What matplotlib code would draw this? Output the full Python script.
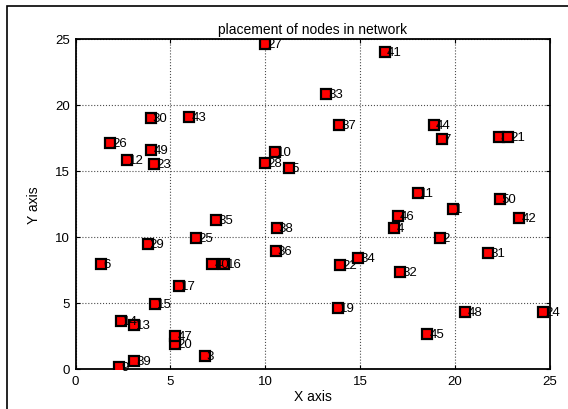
import matplotlib
matplotlib.use('Agg')
import matplotlib.pyplot as plt
from matplotlib.patches import Rectangle

# node positions, indexed by node_id
node_id = [1, 2, 3, 4, 5, 6, 7, 8, 9, 10,
           11, 12, 13, 14, 15, 16, 17, 19, 20,
           21, 22, 23, 24, 25, 26, 27, 28, 29, 30,
           31, 32, 33, 34, 35, 36, 37, 38, 39, 40,
           41, 42, 43, 44, 45, 46, 47, 48, 49, 50]
node_x = [19.9, 19.2, 6.8, 16.8, 11.25, 1.35, 19.3, 22.3, 2.3, 10.5,
          18.04, 2.7, 3.1, 2.4, 4.2, 7.85, 5.45, 13.85, 5.25,
          22.8, 13.95, 4.15, 24.65, 6.35, 1.82, 10.0, 10.0, 3.8, 3.96,
          21.75, 17.1, 13.2, 14.9, 7.4, 10.55, 13.9, 10.6, 3.1, 7.2,
          16.3, 23.4, 6.0, 18.9, 18.55, 17.0, 5.25, 20.55, 4.0, 22.35]
node_y = [12.15, 9.9, 0.96, 10.7, 15.2, 7.95, 17.45, 17.6, 0.17, 16.4,
          13.3, 15.8, 3.3, 3.6, 4.95, 7.95, 6.3, 4.6, 1.9,
          17.6, 7.87, 15.5, 4.3, 9.9, 17.1, 24.6, 15.6, 9.5, 19.0,
          8.75, 7.35, 20.8, 8.4, 11.3, 8.95, 18.5, 10.7, 0.6, 7.95,
          24.0, 11.4, 19.1, 18.5, 2.65, 11.6, 2.5, 4.33, 16.6, 12.9]

ticks = [0, 5, 10, 15, 20, 25]

plt.rcParams['font.family'] = ['Liberation Sans', 'DejaVu Sans']

fig = plt.figure(figsize=(5.68, 4.10), dpi=100)
ax = fig.add_axes([0.133, 0.0976, 0.835, 0.805])

# marker, then its number, node after node (later ones cover earlier labels)
for i, (n, x, y) in enumerate(zip(node_id, node_x, node_y)):
    ax.plot(x, y, 's', ms=7.8, mfc='red', mec='black', mew=1.6,
            zorder=3 + 2 * i)
    ax.annotate(str(n), (x, y), xytext=(1.5, 0), textcoords='offset points',
                ha='left', va='center', fontsize=9.5, color='black',
                zorder=4 + 2 * i)

ax.set_xlim(0, 25)
ax.set_ylim(0, 25)
ax.set_xticks(ticks)
ax.set_yticks(ticks)
ax.grid(True, color='0.3', linestyle=':', linewidth=0.8)
ax.tick_params(direction='in', length=3, width=0.8, top=True, right=True,
               labelsize=9.5, pad=4)
for sp in ax.spines.values():
    sp.set_linewidth(1.3)

ax.set_title('placement of nodes in network', fontsize=10, pad=4)
ax.set_xlabel('X axis', fontsize=10, labelpad=2)
ax.set_ylabel('Y axis', fontsize=10, labelpad=10)

# outer frame of the figure window
fig.patches.append(Rectangle((7 / 568, -0.1), 1.2, 1.1 - 7 / 410,
                             transform=fig.transFigure, fill=False,
                             edgecolor='black', linewidth=1.2))

fig.savefig('out.png', dpi=100)
plt.close(fig)
